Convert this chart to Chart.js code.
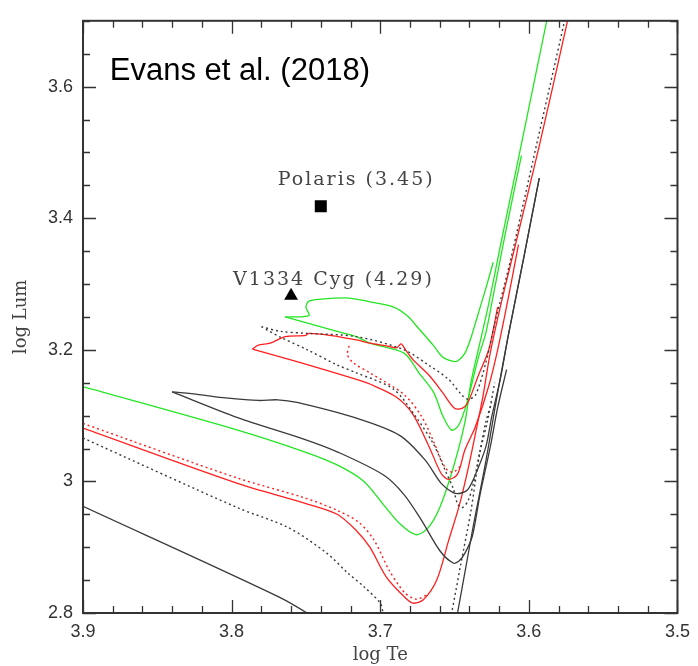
<!DOCTYPE html>
<html>
<head>
<meta charset="utf-8">
<script src="https://cdn.jsdelivr.net/npm/chart.js@4.4.0/dist/chart.umd.min.js"></script>
<style>
  html, body { margin: 0; padding: 0; background: #fff; }
  #wrap { width: 698px; height: 666px; position: relative; }
</style>
</head>
<body>
<div id="wrap"><canvas id="myChart"></canvas></div>
<script>
// tick labels
const xMajor = [3.5, 3.6, 3.7, 3.8, 3.9]
const yMajor = [2.8, 3.0, 3.2, 3.4, 3.6]

// green tracks
const greenLoopTe = [3.764, 3.748, 3.750, 3.748, 3.740, 3.724, 3.716, 3.707, 3.691, 3.682, 3.674, 3.664, 3.658, 3.652, 3.648, 3.643, 3.639, 3.635, 3.629, 3.624]
const greenLoopLum = [3.250, 3.252, 3.265, 3.274, 3.277, 3.279, 3.277, 3.273, 3.265, 3.252, 3.232, 3.206, 3.189, 3.183, 3.183, 3.195, 3.218, 3.248, 3.293, 3.333]
const greenDipTe = [3.764, 3.729, 3.716, 3.707, 3.684, 3.674, 3.664, 3.658, 3.652, 3.647, 3.641, 3.634, 3.629, 3.625, 3.616, 3.605]
const greenDipLum = [3.250, 3.228, 3.220, 3.210, 3.195, 3.165, 3.135, 3.100, 3.078, 3.086, 3.125, 3.188, 3.225, 3.270, 3.375, 3.495]
const greenLowTe = [3.900, 3.796, 3.751, 3.729, 3.711, 3.698, 3.687, 3.676, 3.668, 3.660, 3.651, 3.643, 3.639, 3.633, 3.627, 3.619, 3.608, 3.588, 3.585]
const greenLowLum = [3.144, 3.078, 3.045, 3.025, 3.000, 2.965, 2.936, 2.919, 2.929, 2.960, 3.020, 3.090, 3.150, 3.210, 3.270, 3.360, 3.480, 3.700, 3.735]

// red tracks
const redLoopTe = [3.786, 3.782, 3.774, 3.764, 3.750, 3.748, 3.734, 3.716, 3.707, 3.696, 3.689, 3.686, 3.683, 3.678, 3.667, 3.658, 3.650, 3.645, 3.641, 3.634, 3.627, 3.621]
const redLoopLum = [3.201, 3.207, 3.210, 3.220, 3.222, 3.225, 3.222, 3.215, 3.210, 3.206, 3.203, 3.209, 3.200, 3.185, 3.161, 3.135, 3.111, 3.111, 3.120, 3.161, 3.200, 3.265]
const redDipTe = [3.786, 3.756, 3.716, 3.707, 3.689, 3.678, 3.667, 3.659, 3.654, 3.648, 3.643, 3.636, 3.627, 3.621, 3.614, 3.607]
const redDipLum = [3.201, 3.182, 3.155, 3.148, 3.128, 3.102, 3.052, 3.012, 3.003, 3.011, 3.048, 3.083, 3.145, 3.200, 3.277, 3.360]
const redLowTe = [3.900, 3.796, 3.751, 3.729, 3.716, 3.707, 3.696, 3.684, 3.678, 3.671, 3.662, 3.654, 3.647, 3.641, 3.636, 3.631, 3.626, 3.618, 3.609, 3.593, 3.574, 3.571]
const redLowLum = [3.081, 2.997, 2.967, 2.950, 2.925, 2.900, 2.855, 2.825, 2.815, 2.820, 2.850, 2.910, 2.962, 3.018, 3.072, 3.128, 3.195, 3.277, 3.360, 3.510, 3.700, 3.735]
const redLowDotTe = [3.900, 3.796, 3.751, 3.729, 3.714, 3.704, 3.694, 3.684, 3.676, 3.669]
const redLowDotLum = [3.088, 3.005, 2.975, 2.956, 2.937, 2.910, 2.865, 2.832, 2.821, 2.827]
const redDotTe = [3.721, 3.722, 3.718, 3.707, 3.684, 3.672, 3.664, 3.656, 3.651, 3.646]
const redDotLum = [3.206, 3.192, 3.180, 3.165, 3.132, 3.098, 3.060, 3.020, 3.014, 3.023]

// black tracks
const blackUpTe = [3.840, 3.822, 3.804, 3.782, 3.769, 3.756, 3.716, 3.687, 3.670, 3.659, 3.651, 3.646, 3.641, 3.636, 3.629, 3.625, 3.619, 3.614, 3.603, 3.593]
const blackUpLum = [3.136, 3.132, 3.127, 3.123, 3.124, 3.120, 3.096, 3.070, 3.033, 2.997, 2.983, 2.982, 2.988, 3.010, 3.052, 3.098, 3.158, 3.220, 3.345, 3.461]
const blackLowTe = [3.840, 3.796, 3.751, 3.729, 3.698, 3.684, 3.672, 3.660, 3.651, 3.647, 3.643, 3.638, 3.633, 3.626, 3.621, 3.615]
const blackLowLum = [3.136, 3.097, 3.064, 3.045, 3.010, 2.980, 2.940, 2.895, 2.876, 2.879, 2.891, 2.917, 2.978, 3.052, 3.112, 3.170]
const blackMsTe = [3.900, 3.767, 3.742]
const blackMsLum = [2.962, 2.823, 2.790]
const blackRgbTe = [3.650, 3.648, 3.638, 3.629, 3.621, 3.614, 3.603, 3.593]
const blackRgbLum = [2.783, 2.800, 2.925, 3.030, 3.135, 3.220, 3.345, 3.461]
const blackDotUpTe = [3.780, 3.767, 3.749, 3.716, 3.684, 3.667, 3.654, 3.645, 3.641, 3.636, 3.629, 3.623, 3.613, 3.595, 3.576, 3.573]
const blackDotUpLum = [3.235, 3.228, 3.225, 3.220, 3.200, 3.176, 3.155, 3.131, 3.125, 3.131, 3.180, 3.240, 3.330, 3.510, 3.700, 3.735]
const blackDotMidTe = [3.777, 3.767, 3.749, 3.729, 3.716, 3.691, 3.676, 3.664, 3.656, 3.651, 3.648, 3.645, 3.641, 3.637, 3.633, 3.628, 3.623]
const blackDotMidLum = [3.231, 3.219, 3.200, 3.177, 3.165, 3.140, 3.098, 3.056, 3.015, 2.990, 2.966, 2.960, 2.970, 3.000, 3.045, 3.090, 3.150]
const blackDotLowTe = [3.900, 3.796, 3.762, 3.736, 3.722, 3.711, 3.700, 3.698, 3.696]
const blackDotLowLum = [3.066, 2.960, 2.930, 2.891, 2.861, 2.840, 2.815, 2.800, 2.790]
const blackDotRgbTe = [3.654, 3.652, 3.646, 3.639, 3.634, 3.629, 3.625]
const blackDotRgbLum = [2.783, 2.800, 2.872, 2.955, 3.030, 3.090, 3.120]

// the two stars
const starNames = ['Polaris (3.45)', 'V1334 Cyg (4.29)']
const starTe = [3.740, 3.760]
const starLum = [3.418, 3.282]

const GREEN = '#22e622'
const RED = '#ff1f1f'
const BLACK = '#3a3a3a'

const isOn = (v, list) => list.some(m => Math.abs(m - v) < 1e-6)
const fmt = v => String(Math.round(v * 10) / 10)

const track = (te, lum, color, dotted) => ({
    data: te.map((t, i) => ({x: t, y: lum[i]})),
    showLine: true,
    borderColor: color,
    borderWidth: dotted ? 1.4 : 1.3,
    borderDash: dotted ? [2, 3] : [],
    pointRadius: 0,
    tension: 0.3,
    fill: false
})

const frameTicks = {
    id: 'frameTicks',
    afterDraw(chart) {
        const {ctx, chartArea: a, scales: {x, y}} = chart
        ctx.save()
        ctx.strokeStyle = '#333'
        ctx.lineWidth = 1.3
        ctx.beginPath()
        x.ticks.forEach(t => {
            const px = Math.round(x.getPixelForValue(t.value)) + 0.5
            const len = isOn(t.value, xMajor) ? 13 : 7
            ctx.moveTo(px, a.bottom); ctx.lineTo(px, a.bottom - len)
            ctx.moveTo(px, a.top); ctx.lineTo(px, a.top + len)
        })
        y.ticks.forEach(t => {
            const py = Math.round(y.getPixelForValue(t.value)) + 0.5
            const len = isOn(t.value, yMajor) ? 13 : 7
            ctx.moveTo(a.left, py); ctx.lineTo(a.left + len, py)
            ctx.moveTo(a.right, py); ctx.lineTo(a.right - len, py)
        })
        ctx.stroke()
        ctx.lineWidth = 2
        ctx.strokeRect(a.left, a.top, a.right - a.left, a.bottom - a.top)

        // annotations
        ctx.fillStyle = '#000'
        ctx.font = '31px "Liberation Sans", Arial, sans-serif'
        ctx.fillText('Evans et al. (2018)', x.getPixelForValue(3.882), y.getPixelForValue(3.610))
        ctx.fillStyle = '#444'
        ctx.font = '19px "DejaVu Serif", serif'
        ctx.letterSpacing = '2px'
        ctx.fillText(starNames[0], x.getPixelForValue(3.769), y.getPixelForValue(3.450))
        ctx.fillText(starNames[1], x.getPixelForValue(3.799), y.getPixelForValue(3.298))
        ctx.restore()
    }
}

new Chart(document.getElementById('myChart'), {
    type: 'scatter',
    data: {
        datasets: [
            track(blackMsTe, blackMsLum, BLACK, false),
            track(blackDotLowTe, blackDotLowLum, BLACK, true),
            track(blackDotRgbTe, blackDotRgbLum, BLACK, true),
            track(blackDotMidTe, blackDotMidLum, BLACK, true),
            track(blackDotUpTe, blackDotUpLum, BLACK, true),
            track(blackRgbTe, blackRgbLum, BLACK, false),
            track(blackLowTe, blackLowLum, BLACK, false),
            track(blackUpTe, blackUpLum, BLACK, false),
            track(redLowDotTe, redLowDotLum, RED, true),
            track(redDotTe, redDotLum, RED, true),
            track(redLowTe, redLowLum, RED, false),
            track(redDipTe, redDipLum, RED, false),
            track(redLoopTe, redLoopLum, RED, false),
            track(greenLowTe, greenLowLum, GREEN, false),
            track(greenDipTe, greenDipLum, GREEN, false),
            track(greenLoopTe, greenLoopLum, GREEN, false),
            {
                data: [{x: starTe[0], y: starLum[0]}],
                pointStyle: 'rect', pointRadius: 8.5,
                backgroundColor: '#000', borderColor: '#000', borderWidth: 0
            },
            {
                data: [{x: starTe[1], y: starLum[1]}],
                pointStyle: 'triangle', pointRadius: 8,
                backgroundColor: '#000', borderColor: '#000', borderWidth: 0
            }
        ]
    },
    options: {
        responsive: true,
        maintainAspectRatio: false,
        animation: false,
        devicePixelRatio: 1,
        layout: {padding: {top: 13, right: 14, bottom: 0, left: 0}},
        plugins: {legend: {display: false}, tooltip: {enabled: false}},
        scales: {
            x: {
                type: 'linear',
                reverse: true,
                min: 3.5,
                max: 3.9,
                afterFit: s => { s.height = 53 },
                grid: {display: false, drawTicks: false},
                border: {display: false},
                ticks: {
                    stepSize: 0.02, autoSkip: false, maxRotation: 0, padding: 8,
                    color: '#333', font: {family: '"Liberation Sans", Arial', size: 18},
                    callback: v => isOn(v, xMajor) ? fmt(v) : ''
                },
                title: {
                    display: true, text: 'log Te', color: '#444',
                    font: {family: '"DejaVu Serif", serif', size: 18},
                    padding: {top: 0, bottom: 0}
                }
            },
            y: {
                type: 'linear',
                min: 2.8,
                max: 3.7,
                afterFit: s => { s.width = 83 },
                grid: {display: false, drawTicks: false},
                border: {display: false},
                ticks: {
                    stepSize: 0.05, autoSkip: false, padding: 10,
                    color: '#333', font: {family: '"Liberation Sans", Arial', size: 18},
                    callback: v => isOn(v, yMajor) ? fmt(v) : ''
                },
                title: {
                    display: true, text: 'log Lum', color: '#444',
                    font: {family: '"DejaVu Serif", serif', size: 18},
                    padding: {top: 11, bottom: 0}
                }
            }
        }
    },
    plugins: [frameTicks]
})
</script>
</body>
</html>
